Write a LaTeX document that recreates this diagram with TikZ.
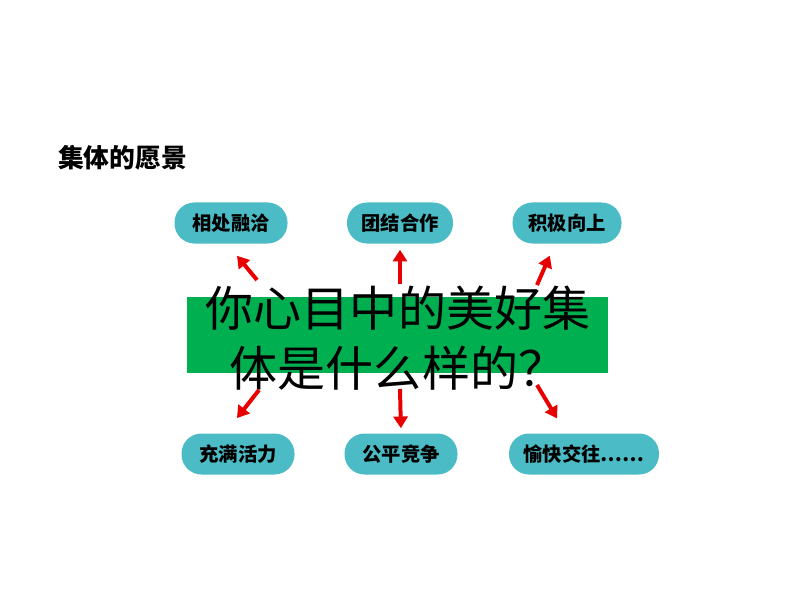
\documentclass[tikz,border=0pt]{standalone}
\usepackage{fontspec}
\setmainfont{Noto Sans CJK SC}
\usetikzlibrary{arrows.meta,calc}
\definecolor{pillblue}{RGB}{75,187,198}
\definecolor{boxgreen}{RGB}{0,176,80}
\definecolor{arrowred}{RGB}{232,0,0}
\tikzset{
  pill/.style={fill=pillblue, rounded corners=0.6cm, minimum height=1.23cm,
    inner sep=0pt, font=\fontsize{16.5}{18}\selectfont\bfseries},
  redarrow/.style={draw=arrowred, line width=3.4pt, -{Triangle[length=10pt,width=12pt]}}
}
\begin{document}
\begin{tikzpicture}[x=0.03cm,y=-0.03cm]
  \useasboundingbox (0,0) rectangle (794,596);
  \node[anchor=west, font=\fontsize{22}{24}\selectfont\bfseries] (title) at (54,158) {集体的愿景};
  % the six wishes
  \node[pill, minimum width=3.39cm] (xq) at (231,223) {相处融洽};
  \node[pill, minimum width=3.18cm] (tj) at (400,223) {团结合作};
  \node[pill, minimum width=3.27cm] (jj) at (567,223) {积极向上};
  \node[pill, minimum width=3.39cm] (cm) at (238,454) {充满活力};
  \node[pill, minimum width=3.39cm] (gp) at (401,454) {公平竞争};
  \node[pill, minimum width=4.5cm] (yk) at (584,454) {愉快交往……};
  % the question in the middle
  \node[fill=boxgreen, minimum width=12.63cm, minimum height=2.28cm, inner sep=0pt] (box) at (397.5,335) {};
  \node[align=center, font=\fontsize{41}{51}\selectfont] (q) at (398,338) {你心目中的美好集\\体是什么样的？};
  % arrows out of the question
  \coordinate (s1) at (257,280);
  \coordinate (s2) at (400,284);
  \coordinate (s3) at (537,285);
  \coordinate (s4) at (259,390);
  \coordinate (s5) at (400,389);
  \coordinate (s6) at (537,385);
  \draw[redarrow, shorten >=0.47cm] (s1) -- ($(xq.south)+(-4,0)$);
  \draw[redarrow, shorten >=0.18cm] (s2) -- (tj.south);
  \draw[redarrow, shorten >=0.39cm] (s3) -- ($(jj.south)+(-12,0)$);
  \draw[redarrow, shorten >=0.58cm] (s4) -- ($(cm.north)+(-13,0)$);
  \draw[redarrow, shorten >=0.15cm] (s5) -- (gp.north);
  \draw[redarrow, shorten >=0.52cm] (s6) -- ($(yk.north)+(-18,0)$);
\end{tikzpicture}
\end{document}
